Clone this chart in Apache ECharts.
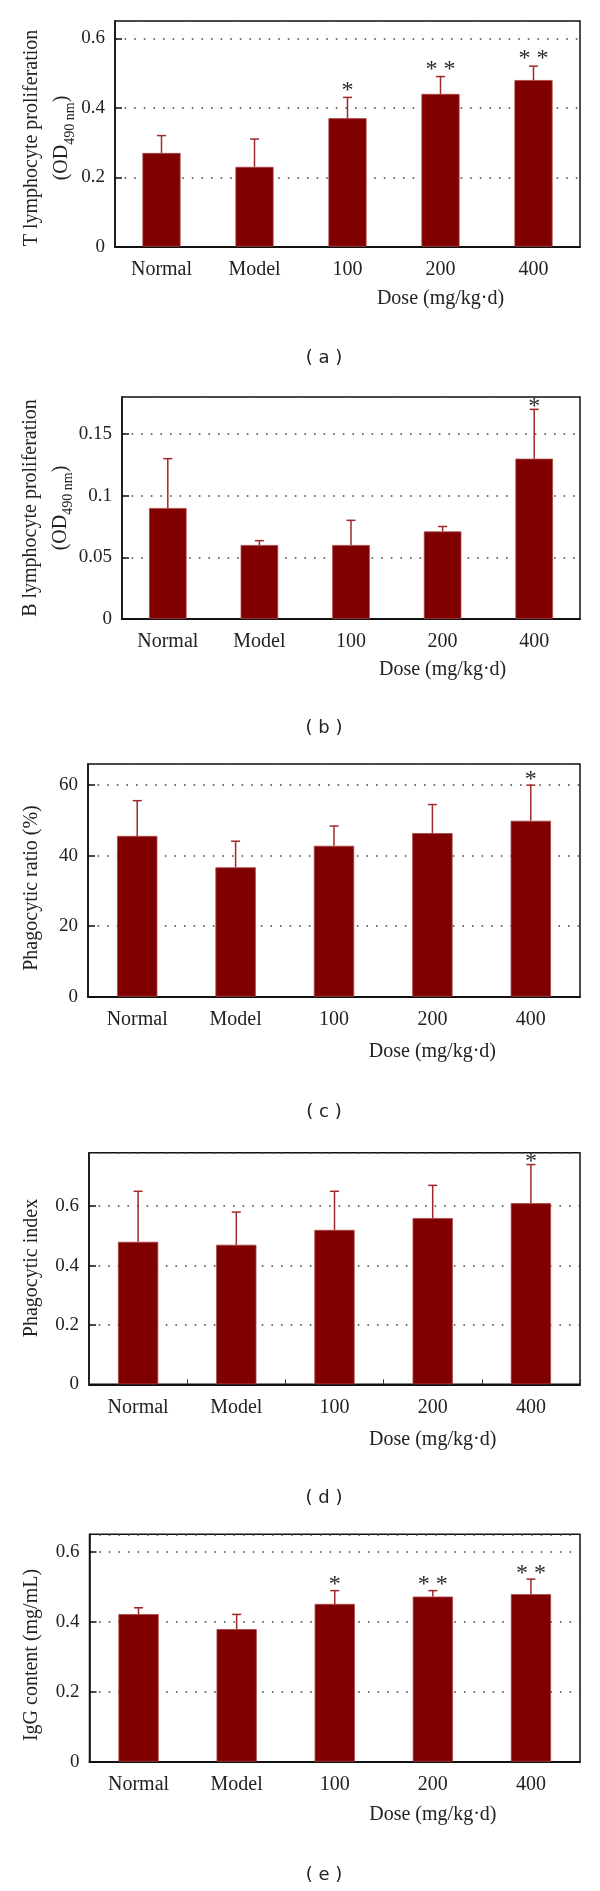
<!DOCTYPE html>
<html><head><meta charset="utf-8">
<script src="https://cdn.jsdelivr.net/npm/echarts@6/dist/echarts.min.js"></script>
<style>html,body{margin:0;padding:0;background:#fff}#c{width:600px;height:1891px}</style>
</head><body><div id="c"></div>
<script>
// ---- data ----
const categories = ['Normal', 'Model', '100', '200', '400'];
const xTitle = 'Dose (mg/kg·d)';
const tMean = [0.27, 0.23, 0.37, 0.44, 0.48];
const tSD   = [0.05, 0.08, 0.06, 0.05, 0.04];
const tStars = ['', '', '*', '* *', '* *'];
const bMean = [0.09, 0.06, 0.06, 0.071, 0.13];
const bSD   = [0.04, 0.0035, 0.02, 0.004, 0.04];
const bStars = ['', '', '', '', '*'];
const cMean = [45.6, 36.7, 42.8, 46.4, 49.9];
const cSD   = [10.0, 7.4, 5.6, 8.1, 10.1];
const cStars = ['', '', '', '', '*'];
const dMean = [0.48, 0.47, 0.52, 0.56, 0.61];
const dSD   = [0.17, 0.11, 0.13, 0.11, 0.13];
const dStars = ['', '', '', '', '*'];
const eMean = [0.422, 0.379, 0.451, 0.472, 0.479];
const eSD   = [0.018, 0.042, 0.038, 0.017, 0.043];
const eStars = ['', '', '*', '* *', '* *'];
const yMax  = [0.65, 0.18, 66, 0.78, 0.65];
const yStep = [0.2, 0.05, 20, 0.2, 0.2];
const yNames = ['T lymphocyte proliferation', 'B lymphocyte proliferation', 'Phagocytic ratio (%)', 'Phagocytic index', 'IgG content (mg/mL)'];
const yUnits = ['490 nm', '490 nm', '', '', ''];
const captions = ['( a )', '( b )', '( c )', '( d )', '( e )'];

const means = [tMean, bMean, cMean, dMean, eMean];
const sds = [tSD, bSD, cSD, dSD, eSD];
const stars = [tStars, bStars, cStars, dStars, eStars];

// ---- layout / style ----
const layout = [
  {left: 115, top: 21,     height: 225.7, nameX: 47,   nameY: 138,  starGap: 11, titleDy: 52, capY: 358,  xTick: false},
  {left: 122, top: 397,    height: 222,   nameX: 45.5, nameY: 508,  starGap: 7,  titleDy: 51, capY: 728,  xTick: false},
  {left: 88,  top: 764,    height: 232.7, nameX: 31.5, nameY: 888,  starGap: 9,  titleDy: 55, capY: 1112, xTick: false},
  {left: 89,  top: 1152.7, height: 231.6, nameX: 31.5, nameY: 1268, starGap: 7,  titleDy: 55, capY: 1498, xTick: true},
  {left: 89.5,top: 1534.3, height: 227.4, nameX: 31.5, nameY: 1655, starGap: 9.5,titleDy: 53, capY: 1875, xTick: false}
];
const SERIF = "'Liberation Serif', 'Times New Roman', serif";
const TXT = '#222';
const BAR = '#800000';
const ERR = '#a02828';

const chart = echarts.init(document.getElementById('c'), null, {renderer: 'canvas'});

function yName(p) {
  if (!yUnits[p]) return '{t|' + yNames[p] + '}';
  return '{t|' + yNames[p] + '}\n{t|(OD}{s|' + yUnits[p] + '}{t|)}';
}

function errRender(p) {
  return function (params, api) {
    const i = api.value(0), m = api.value(1), sd = api.value(2);
    const base = api.coord([i, m]);
    const top = api.coord([i, m + sd]);
    const x = base[0];
    const kids = [
      {type: 'line', shape: {x1: x, y1: base[1], x2: x, y2: top[1]}, style: {stroke: ERR, lineWidth: 1.5}},
      {type: 'line', shape: {x1: x - 4.5, y1: top[1], x2: x + 4.5, y2: top[1]}, style: {stroke: ERR, lineWidth: 1.5}}
    ];
    const s = stars[p][i];
    if (s) {
      kids.push({type: 'text', x: x, y: top[1] - layout[p].starGap + 4,
        style: {text: s, fill: '#2a2a2a', font: '24px ' + SERIF, align: 'center', verticalAlign: 'middle'}});
    }
    return {type: 'group', children: kids};
  };
}

const grids = [], xAxes = [], yAxes = [], series = [];
for (let p = 0; p < 5; p++) {
  const L = layout[p];
  grids.push({left: L.left, top: L.top, right: 20, height: L.height, show: true,
    borderColor: '#111', borderWidth: 1.5, backgroundColor: 'transparent', containLabel: false});
  xAxes.push({type: 'category', gridIndex: p, data: categories,
    axisLine: {lineStyle: {color: '#111', width: 2}},
    axisTick: {show: L.xTick, inside: true, length: 5, lineStyle: {color: '#333', width: 1}},
    axisLabel: {fontFamily: SERIF, fontSize: 20, color: TXT, margin: 13},
    splitLine: {show: false}});
  yAxes.push({type: 'value', gridIndex: p, min: 0, max: yMax[p], interval: yStep[p],
    axisLine: {show: true, lineStyle: {color: '#111', width: 1.5}},
    axisTick: {show: true, inside: true, length: 7, lineStyle: {color: '#111', width: 1.5}},
    axisLabel: {fontFamily: SERIF, fontSize: 19, color: TXT, margin: 10, showMaxLabel: false},
    splitLine: {show: true, lineStyle: {type: [1.6, 8], color: '#444', width: 1.6}}});
  series.push({type: 'bar', xAxisIndex: p, yAxisIndex: p, data: means[p], barWidth: '41%',
    itemStyle: {color: BAR, borderColor: '#a84444', borderWidth: 0.8}, silent: true, animation: false});
  series.push({type: 'custom', xAxisIndex: p, yAxisIndex: p, clip: false, silent: true, animation: false, z: 5,
    data: means[p].map((m, i) => [i, m, sds[p][i]]),
    encode: {x: 0, y: 1},
    renderItem: errRender(p)});
}

chart.setOption({animation: false, grid: grids, xAxis: xAxes, yAxis: yAxes, series: series});

const graphics = [];
for (let p = 0; p < 5; p++) {
  const L = layout[p];
  const px = chart.convertToPixel({xAxisIndex: p}, categories[3]);
  graphics.push({type: 'text', x: px, y: L.top + L.height + L.titleDy,
    style: {text: xTitle, font: '20px ' + SERIF, fill: TXT, align: 'center', verticalAlign: 'middle'}});
  graphics.push({type: 'text', x: 324, y: L.capY,
    style: {text: captions[p], font: "18px 'DejaVu Sans', sans-serif", fill: TXT, align: 'center', verticalAlign: 'middle'}});
  graphics.push({type: 'text', x: L.nameX, y: L.nameY, rotation: Math.PI / 2,
    style: {text: yName(p), fontFamily: SERIF, fontSize: 20, fill: TXT, lineHeight: 30,
      align: 'center', verticalAlign: 'middle',
      rich: {
        t: {fontFamily: SERIF, fontSize: 20, fill: TXT, lineHeight: 30},
        s: {fontFamily: SERIF, fontSize: 14, fill: TXT, lineHeight: 22, verticalAlign: 'bottom'}
      }}});
}
chart.setOption({graphic: graphics});
</script>
</body></html>
